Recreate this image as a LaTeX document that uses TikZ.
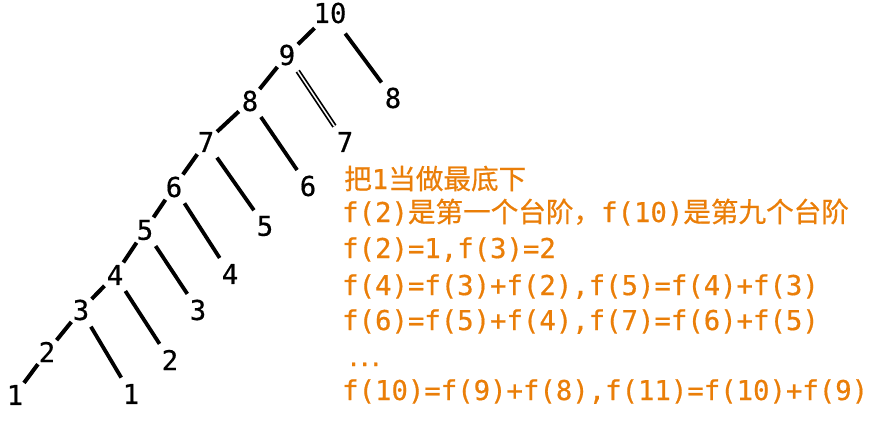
\documentclass[tikz,border=0pt]{standalone}
\usepackage{fontspec}
\newfontfamily\monof[FakeBold=0.6]{DejaVu Sans Mono}
\newfontfamily\cjkf[FakeBold=0.6]{Noto Sans CJK SC}
\definecolor{orng}{RGB}{234,126,8}
\newcommand{\zhtxt}[1]{{\cjkf\fontsize{27.6bp}{30bp}\selectfont #1}}
\begin{document}
\begin{tikzpicture}[x=1bp,y=-1bp,
  num/.style={circle, inner sep=0pt, font=\monof\fontsize{27.3bp}{30bp}\selectfont},
  txt/.style={anchor=base west, inner sep=0pt, text=orng, font=\monof\fontsize{27.3bp}{30bp}\selectfont},
  ledge/.style={line width=4bp, shorten <=2bp, shorten >=2bp},
  redge/.style={line width=3.8bp, shorten <=6bp, shorten >=6bp},
  dedge/.style={double, line width=1.7bp, double distance=1.5bp, shorten <=6bp, shorten >=6bp}]
\useasboundingbox (0,0) rectangle (875,424);
% left chain
\node[num] (n10) at (330,13) {10};
\node[num] (n9) at (287,55) {9};
\node[num] (n8) at (250,101) {8};
\node[num] (n7) at (206,142) {7};
\node[num] (n6) at (174,187) {6};
\node[num] (n5) at (145,230) {5};
\node[num] (n4) at (115,275) {4};
\node[num] (n3) at (81,310) {3};
\node[num] (n2) at (47,352) {2};
\node[num] (n1) at (15,395) {1};
% right children
\node[num] (r8) at (393,98) {8};
\node[num] (r7) at (345,142) {7};
\node[num] (r6) at (308,186) {6};
\node[num] (r5) at (265,226) {5};
\node[num] (r4) at (230,274) {4};
\node[num] (r3) at (198,310) {3};
\node[num] (r2) at (170,360) {2};
\node[num] (r1) at (131,394) {1};
% left edges
\draw[ledge] (n10) -- (n9);
\draw[ledge] (n9) -- (n8);
\draw[ledge] (n8) -- (n7);
\draw[ledge] (n7) -- (n6);
\draw[ledge] (n6) -- (n5);
\draw[ledge] (n5) -- (n4);
\draw[ledge] (n4) -- (n3);
\draw[ledge] (n3) -- (n2);
\draw[ledge] (n2) -- (n1);
% right edges
\draw[redge] (n10) -- (r8);
\draw[dedge] (n9) -- (r7);
\draw[redge] (n8) -- (r6);
\draw[redge] (n7) -- (r5);
\draw[redge] (n6) -- (r4);
\draw[redge] (n5) -- (r3);
\draw[redge] (n4) -- (r2);
\draw[redge] (n3) -- (r1);
% text
\node[txt] (t1) at (344,189) {\zhtxt{把}1\zhtxt{当做最底下}};
\node[txt] (t2) at (342,222) {f(2)\zhtxt{是第一个台阶，}f(10)\zhtxt{是第九个台阶}};
\node[txt] (t3) at (342,258) {f(2)=1,f(3)=2};
\node[txt] (t4) at (342,295) {f(4)=f(3)+f(2),f(5)=f(4)+f(3)};
\node[txt] (t5) at (342,330) {f(6)=f(5)+f(4),f(7)=f(6)+f(5)};
\node[txt, font=\monof\bfseries\fontsize{18.3bp}{22bp}\selectfont] (t6) at (348,366) {...};
\node[txt] (t7) at (342,400) {f(10)=f(9)+f(8),f(11)=f(10)+f(9)};
\end{tikzpicture}
\end{document}
